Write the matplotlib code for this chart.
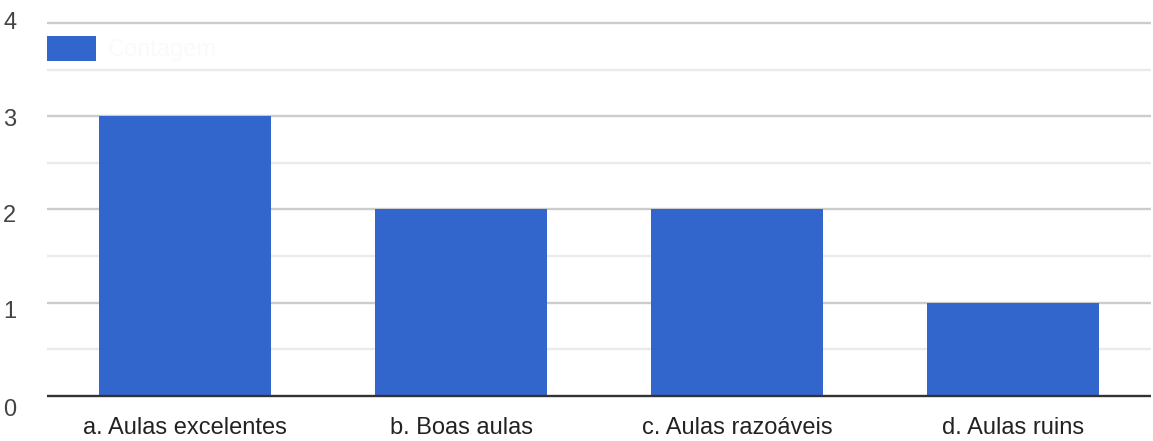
import matplotlib
matplotlib.use("Agg")
import matplotlib.pyplot as plt
import matplotlib.transforms as mtransforms
import numpy as np

categories = ["a. Aulas excelentes", "b. Boas aulas", "c. Aulas razoáveis", "d. Aulas ruins"]
values = [3, 2, 2, 1]
series_name = "Contagem"
yticks = [0, 1, 2, 3, 4]

plt.rcParams['font.family'] = ['Liberation Sans', 'DejaVu Sans']

W, H = 1153, 441
fig = plt.figure(figsize=(W / 100, H / 100), dpi=100)
ppu = (396 - 23) / 4.0
ext = 0.05
top_px = 23 - ext * ppu
bot_px = 396 + ext * ppu
ax = fig.add_axes([47 / W, (H - bot_px) / H, (1151 - 47) / W, (bot_px - top_px) / H])

x = np.arange(len(categories))
ax.bar(x, values, width=0.62, color="#3366CC", zorder=3, label=series_name)
ax.set_xlim(-0.5, len(categories) - 0.5)
ax.set_ylim(-ext, 4 + ext)

for v in yticks[1:]:
    ax.axhline(v, color="#cccccc", lw=1.7, zorder=1)
for v in np.arange(0.5, 4, 1.0):
    ax.axhline(v, color="#ebebeb", lw=1.7, zorder=1)
ax.axhline(0, color="#333333", lw=1.7, zorder=4)

for s in ax.spines.values():
    s.set_visible(False)
ax.set_xticks(x)
ax.set_xticklabels(categories, fontsize=17, color="#222222")
ax.set_yticks(yticks)
ax.set_yticklabels([str(t) for t in yticks], fontsize=17, color="#444444")
ax.tick_params(axis='both', length=0)
ax.tick_params(axis='x', pad=12)
ax.tick_params(axis='y', pad=22)

# Google-Charts-like vertical nudges of the y labels (pixels, downward positive)
label_shift_px = [11, 7, 4, 1, -2]
for lab, d in zip(ax.get_yticklabels(), label_shift_px):
    lab.set_transform(lab.get_transform() + mtransforms.ScaledTranslation(0, -d / 100, fig.dpi_scale_trans))

leg = ax.legend(loc='upper left', bbox_to_anchor=(0, 1 - (36 - top_px) / (bot_px - top_px)),
                frameon=False, handlelength=2.07, handleheight=1.25, borderaxespad=0,
                borderpad=0, fontsize=17, handletextpad=0.5)
for t in leg.get_texts():
    t.set_color("#fafafa")

fig.savefig("out.png", dpi=100, facecolor="white")
